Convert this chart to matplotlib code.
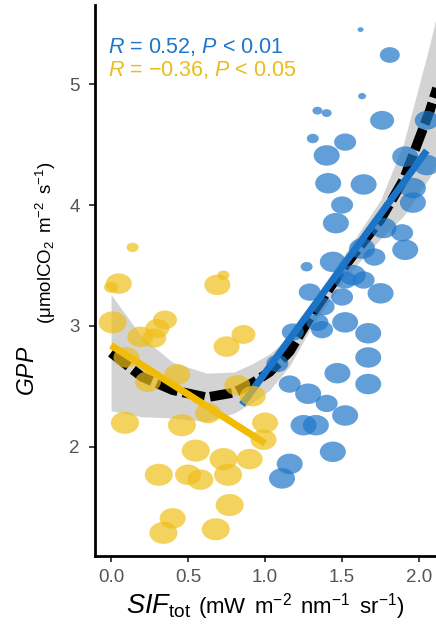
import numpy as np
import matplotlib
matplotlib.use('Agg')
import matplotlib.pyplot as plt
from matplotlib.path import Path

plt.rcParams['font.family'] = ['Liberation Sans', 'DejaVu Sans']
plt.rcParams['mathtext.fontset'] = 'custom'
plt.rcParams['mathtext.rm'] = 'Liberation Sans'
plt.rcParams['mathtext.it'] = 'Liberation Sans:italic'

# yellow group: SIF, GPP, point weight
yellow_x = [0.14, 0.05, 0.0, 0.69, 0.73, 0.01, 0.35, 0.30, 0.19, 0.28, 0.86,
            0.75, 0.10, 0.24, 0.43, 0.82, 0.92, 0.09, 0.46, 0.63, 1.0, 0.99,
            0.55, 0.73, 0.90, 0.31, 0.50, 0.58, 0.76, 0.77, 0.40, 0.34, 0.68]
yellow_y = [3.65, 3.35, 3.32, 3.34, 3.42, 3.03, 3.05, 2.98, 2.91, 2.90, 2.93,
            2.83, 2.74, 2.54, 2.60, 2.51, 2.42, 2.20, 2.18, 2.28, 2.20, 2.06,
            1.97, 1.90, 1.90, 1.77, 1.77, 1.73, 1.77, 1.52, 1.41, 1.29, 1.32]
yellow_w = [6, 13, 7, 13, 6, 14, 12, 12, 13, 12, 12,
            13, 13, 13, 13, 13, 13, 14, 14, 13, 13, 13,
            14, 14, 13, 14, 13, 13, 14, 14, 13, 14, 14]

# blue group
blue_x = [1.62, 1.81, 1.63, 1.34, 1.40, 1.76, 1.31, 1.52, 1.40, 1.91, 2.05,
          2.05, 1.41, 1.64, 1.96, 1.96, 1.50, 1.46, 1.77, 1.89, 1.91, 1.63,
          1.71, 1.44, 1.27, 1.57, 1.52, 1.64, 1.75, 1.29, 1.50, 1.38, 1.34,
          1.52, 1.18, 1.37, 1.67, 1.67, 1.08, 1.47, 1.67, 1.16, 1.28, 1.40,
          1.52, 1.25, 1.33, 1.44, 1.16, 1.11]
blue_y = [5.45, 5.24, 4.90, 4.78, 4.76, 4.70, 4.55, 4.52, 4.41, 4.40, 4.70,
          4.33, 4.18, 4.17, 4.14, 4.02, 4.00, 3.85, 3.81, 3.77, 3.63, 3.64,
          3.57, 3.53, 3.49, 3.42, 3.38, 3.38, 3.27, 3.28, 3.24, 3.16, 3.03,
          3.03, 2.95, 2.97, 2.94, 2.74, 2.69, 2.61, 2.52, 2.52, 2.44, 2.36,
          2.26, 2.18, 2.18, 1.96, 1.86, 1.74]
blue_w = [3, 10, 4, 5, 5, 12, 6, 11, 13, 13, 12,
          13, 13, 13, 13, 13, 11, 13, 13, 11, 13, 13,
          11, 13, 6, 13, 11, 11, 13, 11, 11, 11, 11,
          13, 11, 11, 13, 13, 11, 13, 13, 11, 13, 11,
          13, 13, 13, 13, 13, 13]

# fitted lines
yellow_fit_x = [0.0, 1.0]
yellow_fit_y = [2.84, 2.03]
blue_fit_x = [0.85, 2.05]
blue_fit_y = [2.35, 4.45]

# overall smooth curve and its confidence half-width
curve_x = [0.0, 0.2, 0.4, 0.62, 0.8, 0.92, 1.03, 1.16, 1.31, 1.52, 1.75, 1.90, 2.07, 2.12]
curve_y = [2.78, 2.58, 2.47, 2.41, 2.45, 2.53, 2.62, 2.79, 3.11, 3.50, 3.88, 4.21, 4.78, 4.98]
curve_se = [0.48, 0.33, 0.23, 0.20, 0.17, 0.16, 0.15, 0.12, 0.10, 0.10, 0.16, 0.30, 0.55, 0.62]

blue = '#1f77c9'
yellow = '#efbf1a'

# the source picture is stretched sideways, so the dots are drawn as wide ellipses
circ = Path.unit_circle()
oval = Path(circ.vertices * np.array([1.27, 1.0]), circ.codes)

fig = plt.figure(figsize=(4.36, 6.3), dpi=100)
ax = fig.add_axes([0.218, 0.1175, 0.782, 0.8745])

cx = np.array(curve_x)
cy = np.array(curve_y)
se = np.array(curve_se)
ax.fill_between(cx, cy - se, cy + se, color='#b0b0b0', alpha=0.55, lw=0, zorder=1)
ax.plot(cx, cy, color='black', lw=7, ls=(0, (2.3, 0.55)), solid_capstyle='butt', zorder=2)
ax.plot(yellow_fit_x, yellow_fit_y, color='#f2bb00', lw=5, solid_capstyle='butt', zorder=3)
ax.plot(blue_fit_x, blue_fit_y, color='#1a73c8', lw=5, solid_capstyle='butt', zorder=3)

ax.scatter(yellow_x, yellow_y, s=(np.array(yellow_w) * 1.44) ** 2, color=yellow,
           marker=oval, alpha=0.7, lw=0, zorder=4)
ax.scatter(blue_x, blue_y, s=(np.array(blue_w) * 1.44) ** 2, color=blue,
           marker=oval, alpha=0.7, lw=0, zorder=4)

ax.text(-0.02, 5.256, r'$R$ = 0.52, $P$ < 0.01', color='#1f77c9', fontsize=15.5)
ax.text(-0.02, 5.066, r'$R$ = $-$0.36, $P$ < 0.05', color='#e8bd1c', fontsize=15.5)

ax.set_xlim(-0.104, 2.11)
ax.set_ylim(1.099, 5.653)
ax.set_xticks([0.0, 0.5, 1.0, 1.5, 2.0])
ax.set_xticklabels(['0.0', '0.5', '1.0', '1.5', '2.0'])
ax.set_yticks([2, 3, 4, 5])

for side in ['top', 'right']:
    ax.spines[side].set_visible(False)
for side in ['left', 'bottom']:
    ax.spines[side].set_linewidth(2)
    ax.spines[side].set_color('black')
ax.tick_params(length=4, width=1.3, color='#333333', labelcolor='#555555',
               labelsize=13.5)
ax.tick_params(axis='x', pad=5.5)
ax.tick_params(axis='y', pad=7)

# axis titles, pieced together like the plotmath labels of the source
W, H = 436.0, 630.0
fig.text(126 / W, 1 - 614 / H, r'$\mathit{SIF}_{\mathrm{tot}}$', fontsize=19.5,
         ha='left', va='baseline')
fig.text(198 / W, 1 - 614 / H,
         r'$(\mathrm{mW}\ \,\mathrm{m^{-2}}\ \,\mathrm{nm^{-1}}\ \,\mathrm{sr^{-1}})$',
         fontsize=16, ha='left', va='baseline')
fig.text(28 / W, 1 - 371 / H, r'$\mathit{GPP}$', fontsize=16.5, rotation=90,
         ha='center', va='center')
fig.text(46 / W, 1 - 243 / H, r'$(\mathrm{\mu molCO_2}\ \,\mathrm{m^{-2}}\ \,\mathrm{s^{-1}})$',
         fontsize=13.5, rotation=90, ha='center', va='center')

fig.savefig('out.png', dpi=100)
